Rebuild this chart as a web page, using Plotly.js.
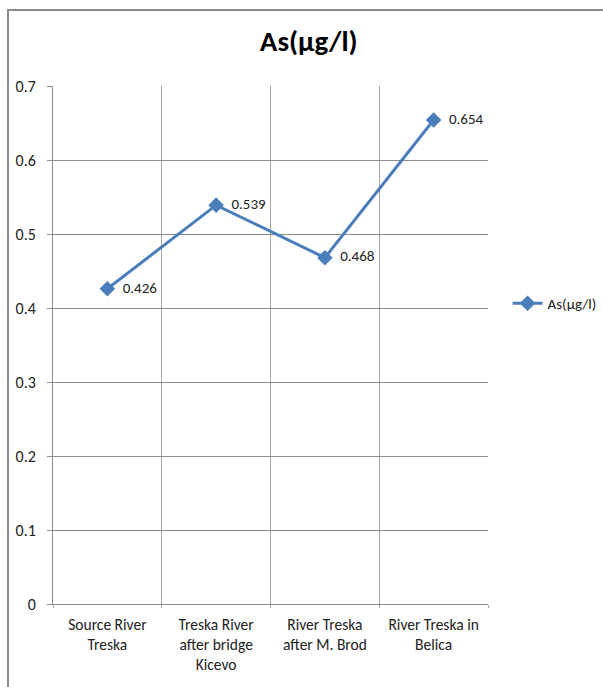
<!DOCTYPE html>
<html>
<head>
<meta charset="utf-8">
<script src="https://cdn.plot.ly/plotly-3.0.1.min.js"></script>
<style>
html,body{margin:0;padding:0;background:#fff;overflow:hidden;}
#chart{position:absolute;left:0;top:0;width:603px;height:687px;}
#frame{position:absolute;left:7px;top:9px;width:700px;height:800px;border:2px solid #8c8c8c;pointer-events:none;}
</style>
</head>
<body>
<div id="chart"></div>
<div id="frame"></div>
<script>
const categories = ["Source River Treska", "Treska River after bridge Kicevo", "River Treska after M. Brod", "River Treska in Belica"];
const tickLabels = ["Source River<br>Treska", "Treska River<br>after bridge<br>Kicevo", "River Treska<br>after M. Brod", "River Treska in<br>Belica"];
const asValues = [0.426, 0.539, 0.468, 0.654];
const yTicks = [0, 0.1, 0.2, 0.3, 0.4, 0.5, 0.6, 0.7];
const yTickLabels = ["0", "0.1", "0.2", "0.3", "0.4", "0.5", "0.6", "0.7"];
const seriesName = "As(μg/l)";
const titleText = "As(μg/l)";

const FONT = 'Carlito, Calibri, Lato, "Open Sans", sans-serif';
const BLUE = '#4a7ebb';

const trace = {
  x: categories,
  y: asValues,
  type: 'scatter',
  mode: 'lines+markers+text',
  name: seriesName,
  text: asValues.map(v => v.toString()),
  texttemplate: '  %{text}',
  textposition: 'middle right',
  textfont: {family: FONT, size: 15, color: '#222'},
  line: {color: BLUE, width: 3},
  marker: {symbol: 'diamond', size: 12, color: BLUE},
  cliponaxis: false,
  hoverinfo: 'x+y'
};

const layout = {
  width: 603,
  height: 687,
  margin: {l: 53, r: 115, t: 86, b: 83, autoexpand: false},
  paper_bgcolor: '#fff',
  plot_bgcolor: '#fff',
  font: {family: FONT, size: 15, color: '#222'},
  title: {
    text: '<b>' + titleText + '</b>',
    font: {family: FONT, size: 29, color: '#000'},
    x: 0.512, xanchor: 'center', y: 0.94, yanchor: 'middle'
  },
  xaxis: {
    type: 'category',
    tickmode: 'array',
    tickvals: categories,
    ticktext: tickLabels,
    tickson: 'boundaries',
    range: [-0.5, 3.5],
    showgrid: true,
    gridcolor: '#a6a6a6',
    gridwidth: 1,
    showline: true,
    linecolor: '#8c8c8c',
    linewidth: 1,
    ticks: 'outside',
    ticklen: 3,
    tickcolor: '#a6a6a6',
    ticklabelstandoff: 6,
    tickfont: {family: FONT, size: 15.5, color: '#222'},
    fixedrange: true
  },
  yaxis: {
    range: [0, 0.7],
    tickmode: 'array',
    tickvals: yTicks,
    ticktext: yTickLabels,
    showgrid: true,
    gridcolor: '#8c8c8c',
    gridwidth: 1,
    zeroline: false,
    showline: true,
    linecolor: '#8c8c8c',
    linewidth: 1,
    ticks: 'outside',
    ticklen: 5,
    tickcolor: '#8c8c8c',
    ticklabelstandoff: 8,
    tickfont: {family: FONT, size: 16, color: '#222'},
    fixedrange: true
  },
  showlegend: true,
  legend: {
    x: 1.045, xanchor: 'left',
    y: 0.58, yanchor: 'middle',
    itemwidth: 30,
    font: {family: FONT, size: 15, color: '#222'},
    bgcolor: 'rgba(0,0,0,0)'
  }
};

Plotly.newPlot('chart', [trace], layout, {displayModeBar: false, staticPlot: true});
</script>
</body>
</html>
